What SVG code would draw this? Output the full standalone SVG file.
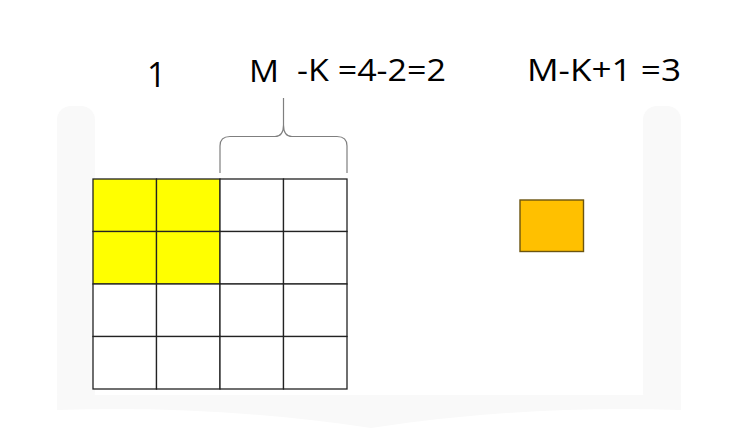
<svg xmlns="http://www.w3.org/2000/svg" width="742" height="432" viewBox="0 0 742 432">
<style>
.t{font-family:"Open Sans","Liberation Sans",sans-serif;font-size:31px;fill:#000}
.cell{stroke:#222;stroke-width:1.3;fill:#fff}
.y{fill:#FFFF00}
.wm{fill:#f9f9f9}
</style>
<rect width="742" height="432" fill="#fff"/>
<g id="watermark">
<rect class="wm" x="57" y="106" width="38" height="300" rx="14"/>
<rect class="wm" x="643" y="106" width="38" height="300" rx="14"/>
<path class="wm" d="M57,395 L681,395 L681,410 Q520,405 371,428 Q220,405 57,410 Z"/>
</g>
<g id="labels">
<text class="t" x="147" y="87" style="font-size:35px" textLength="19" lengthAdjust="spacingAndGlyphs">1</text>
<text class="t" x="249" y="82" textLength="30" lengthAdjust="spacingAndGlyphs">M</text>
<text class="t" x="297" y="81" textLength="149" lengthAdjust="spacingAndGlyphs">-K =4-2=2</text>
<text class="t" x="527" y="81" textLength="154" lengthAdjust="spacingAndGlyphs">M-K+1 =3</text>
</g>
<g id="grid">
<rect class="cell y" x="93" y="179" width="63.5" height="52.5"/>
<rect class="cell y" x="156.5" y="179" width="63.5" height="52.5"/>
<rect class="cell" x="220" y="179" width="63.5" height="52.5"/>
<rect class="cell" x="283.5" y="179" width="63.5" height="52.5"/>
<rect class="cell y" x="93" y="231.5" width="63.5" height="52.5"/>
<rect class="cell y" x="156.5" y="231.5" width="63.5" height="52.5"/>
<rect class="cell" x="220" y="231.5" width="63.5" height="52.5"/>
<rect class="cell" x="283.5" y="231.5" width="63.5" height="52.5"/>
<rect class="cell" x="93" y="284" width="63.5" height="52.5"/>
<rect class="cell" x="156.5" y="284" width="63.5" height="52.5"/>
<rect class="cell" x="220" y="284" width="63.5" height="52.5"/>
<rect class="cell" x="283.5" y="284" width="63.5" height="52.5"/>
<rect class="cell" x="93" y="336.5" width="63.5" height="52.5"/>
<rect class="cell" x="156.5" y="336.5" width="63.5" height="52.5"/>
<rect class="cell" x="220" y="336.5" width="63.5" height="52.5"/>
<rect class="cell" x="283.5" y="336.5" width="63.5" height="52.5"/>
</g>
<g id="connectors">
<path d="M220,173 L220,146 Q220,136.5 230,136.5 L275,136.5 Q283.5,136.5 283.5,125 L283.5,98 M283.5,125 Q283.5,136.5 292,136.5 L337,136.5 Q347,136.5 347,146 L347,173" fill="none" stroke="#7f7f7f" stroke-width="1.2"/>
</g>
<g id="output">
<rect x="520" y="200" width="63.5" height="51.5" fill="#FFC000" stroke="#6b5410" stroke-width="1.4"/>
</g>
</svg>
